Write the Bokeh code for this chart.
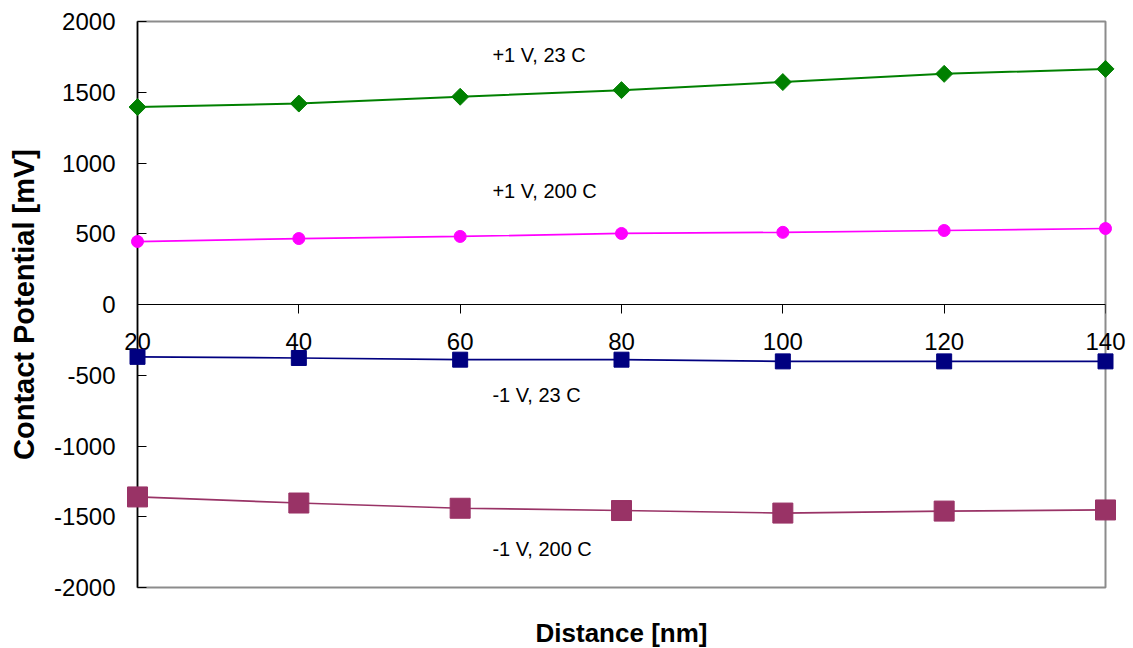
import math
from bokeh.plotting import figure
from bokeh.models import Range1d, FixedTicker, Label, CustomJSTickFormatter
from bokeh.core.properties import value
from bokeh.embed import file_html
from bokeh.resources import INLINE

# Data
distance = [20, 40, 60, 80, 100, 120, 140]
pos_23 = [1395, 1420, 1468, 1515, 1572, 1630, 1665]
pos_200 = [445, 466, 481, 502, 510, 523, 537]
neg_23 = [-370, -378, -390, -390, -402, -402, -402]
neg_200 = [-1360, -1403, -1440, -1456, -1474, -1460, -1452]

series_labels = ["+1 V, 23 C", "+1 V, 200 C", "-1 V, 23 C", "-1 V, 200 C"]
label_x = [64, 64, 64, 64]
label_y = [1760, 800, -643, -1731]

x_ticks = [20, 40, 60, 80, 100, 120, 140]
x_tick_labels = [str(t) for t in x_ticks]
y_ticks = [-2000, -1500, -1000, -500, 0, 500, 1000, 1500, 2000]
x_min, x_max = 20, 140
y_min, y_max = -2000, 2000

FONT = "Liberation Sans"

p = figure(width=1133, height=648,
           x_range=Range1d(x_min, x_max), y_range=Range1d(y_min, y_max),
           output_backend="svg", toolbar_location=None,
           min_border_left=137, min_border_right=28,
           min_border_top=21, min_border_bottom=61)

p.background_fill_color = "white"
p.border_fill_color = "white"
p.outline_line_color = "#8c8c8c"
p.outline_line_width = 2
p.xgrid.visible = False
p.ygrid.visible = False

# x axis crossing at y = 0 (labels drawn separately so the end ones are not clipped)
xa = p.xaxis[0]
xa.fixed_location = 0
xa.ticker = FixedTicker(ticks=x_ticks)
xa.axis_line_color = "black"
xa.axis_line_width = 1
xa.major_tick_out = 9
xa.major_tick_in = 0
xa.major_tick_line_color = "black"
xa.minor_tick_line_color = None
xa.major_label_text_color = None
xa.major_label_text_font_size = "24px"

p.text(x=x_ticks, y=[0] * len(x_ticks), text=x_tick_labels,
       text_align="center", text_baseline="top", y_offset=28,
       text_font=value(FONT), text_font_size="24px", text_color="black",
       level="overlay")

ya = p.yaxis[0]
ya.ticker = FixedTicker(ticks=y_ticks)
ya.formatter = CustomJSTickFormatter(code="return String(tick);")
ya.axis_line_color = "black"
ya.axis_line_width = 1.5
ya.major_tick_out = 0
ya.major_tick_in = 9
ya.major_tick_line_color = "black"
ya.minor_tick_line_color = None
ya.major_label_standoff = 22
ya.major_label_text_font = FONT
ya.major_label_text_font_size = "24px"
ya.major_label_text_color = "black"
ya.axis_label = "Contact Potential [mV]"
ya.axis_label_text_font = FONT
ya.axis_label_text_font_size = "29px"
ya.axis_label_text_font_style = "bold"
ya.axis_label_text_color = "black"
ya.axis_label_standoff = 11

# series
p.line(distance, pos_23, line_color="#008000", line_width=2)
p.scatter(distance, pos_23, marker="square", angle=math.pi / 4, size=12,
          fill_color="#008000", line_color="#008000", level="overlay")

p.line(distance, pos_200, line_color="#FF00FF", line_width=1.7)
p.scatter(distance, pos_200, marker="circle", size=12,
          fill_color="#FF00FF", line_color="#FF00FF", level="overlay")

p.line(distance, neg_23, line_color="#000080", line_width=1.7)
p.scatter(distance, neg_23, marker="square", size=15,
          fill_color="#000080", line_color="#000080", level="overlay")

p.line(distance, neg_200, line_color="#993366", line_width=1.7)
p.scatter(distance, neg_200, marker="square", size=20,
          fill_color="#993366", line_color="#993366", level="overlay")

for t, lx, ly in zip(series_labels, label_x, label_y):
    p.add_layout(Label(x=lx, y=ly, text=t, text_align="left", text_baseline="middle",
                       text_font=FONT, text_font_size="20px", text_color="black"))

# x axis title, anchored at the bottom edge of the plot area
p.text(x=[(x_min + x_max) / 2], y=[y_min], text=["Distance [nm]"],
       text_align="center", text_baseline="middle", y_offset=45,
       text_font=value(FONT), text_font_size="26px", text_font_style="bold",
       text_color="black", level="overlay")

open("out.html", "w").write(file_html(p, INLINE))
